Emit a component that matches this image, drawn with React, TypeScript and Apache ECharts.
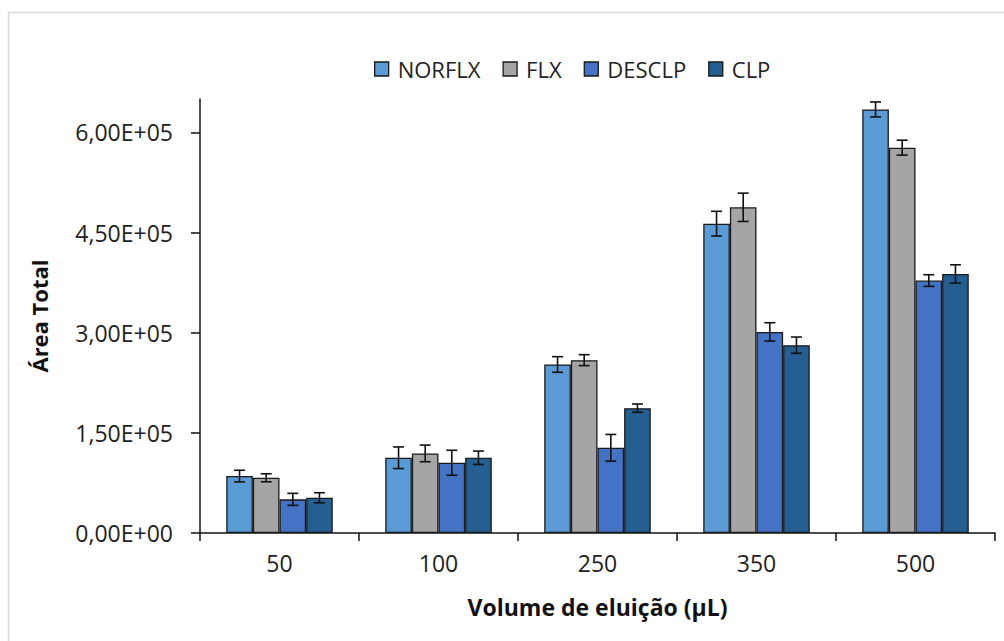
import React, { useEffect, useRef } from "react";
import * as echarts from "echarts";

const categories = ["50", "100", "250", "350", "500"];
const seriesNames = ["NORFLX", "FLX", "DESCLP", "CLP"];
const norflx = [85300, 112700, 252400, 463300, 634400];
const flx = [82700, 119200, 258900, 487800, 577100];
const desclp = [50400, 105200, 127600, 301200, 378100];
const clp = [52800, 112700, 187000, 281300, 388000];
const norflxErr = [8700, 16200, 11700, 18500, 11200];
const flxErr = [6000, 12500, 8200, 21200, 11200];
const desclpErr = [9000, 18700, 20000, 13700, 8700];
const clpErr = [7500, 10000, 6200, 12200, 13700];
const yTicks = [0, 150000, 300000, 450000, 600000];
const colors = ["#5B9BD5", "#A5A5A5", "#4472C4", "#255E91"];

const values = [norflx, flx, desclp, clp];
const errors = [norflxErr, flxErr, desclpErr, clpErr];

const CAT_GAP = 0.33;

function fmt(v: number): string {
  if (v === 0) return "0,00E+00";
  const exp = Math.floor(Math.log10(v));
  const mant = v / Math.pow(10, exp);
  return `${mant.toFixed(2).replace(".", ",")}E+${String(exp).padStart(2, "0")}`;
}

export default function App() {
  const ref = useRef<HTMLDivElement>(null);
  useEffect(() => {
    if (!ref.current) return;
    const chart = echarts.init(ref.current, undefined, { renderer: "svg" });
    const font = "'Open Sans', sans-serif";
    const barSeries = seriesNames.map((name, i) => ({
      name,
      type: "bar",
      data: values[i],
      barGap: "0%",
      barCategoryGap: `${CAT_GAP * 100}%`,
      itemStyle: { color: colors[i], borderColor: "#1a1a1a", borderWidth: 1.3 },
    }));
    const errSeries = seriesNames.map((name, i) => ({
      name: name + " err",
      type: "custom",
      z: 5,
      data: values[i].map((v, j) => [j, v, errors[i][j]]),
      encode: { x: 0, y: 1 },
      renderItem: (params: any, api: any) => {
        const c = api.value(0);
        const v = api.value(1);
        const e = api.value(2);
        const catW = api.size([1, 0])[0];
        const bw = (catW * (1 - CAT_GAP)) / 4;
        const center = api.coord([c, v]);
        const x = center[0] + (i - 1.5) * bw;
        const top = api.coord([c, v + e])[1];
        const bot = api.coord([c, v - e])[1];
        const cap = 5.5;
        const style = { stroke: "#111", lineWidth: 1.6 };
        return {
          type: "group",
          children: [
            { type: "line", shape: { x1: x, y1: top, x2: x, y2: bot }, style },
            { type: "line", shape: { x1: x - cap, y1: top, x2: x + cap, y2: top }, style },
            { type: "line", shape: { x1: x - cap, y1: bot, x2: x + cap, y2: bot }, style },
          ],
        };
      },
    }));
    chart.setOption({
      animation: false,
      textStyle: { fontFamily: font },
      graphic: [
        {
          type: "rect",
          shape: { x: 8.5, y: 12.5, width: 1100, height: 800 },
          style: { fill: "none", stroke: "#d9d9d9", lineWidth: 1.5 },
          silent: true,
          z: -10,
        },
      ],
      legend: {
        data: seriesNames,
        top: 53,
        left: 369,
        itemWidth: 14,
        itemHeight: 14,
        itemGap: 22,
        icon: "rect",
        itemStyle: { borderColor: "#1a1a1a", borderWidth: 1.3 },
        textStyle: { fontFamily: font, fontSize: 22, color: "#222", padding: [0, 0, 0, 4] },
      },
      grid: { left: 200, right: 9, top: 99, bottom: 108, containLabel: false },
      xAxis: {
        type: "category",
        data: categories,
        name: "Volume de eluição (µL)",
        nameLocation: "middle",
        nameGap: 62,
        nameTextStyle: { fontFamily: font, fontSize: 23, fontWeight: "bold", color: "#111" },
        axisLine: { lineStyle: { color: "#111", width: 1.5 } },
        axisTick: { show: true, length: 8, lineStyle: { color: "#111", width: 1.5 } },
        axisLabel: { fontFamily: font, fontSize: 23, color: "#222", margin: 18 },
      },
      yAxis: {
        type: "value",
        min: 0,
        max: 650000,
        interval: 150000,
        name: "Área Total",
        nameLocation: "middle",
        nameRotate: 90,
        nameGap: 150,
        nameTextStyle: { fontFamily: font, fontSize: 22, fontWeight: "bold", color: "#111" },
        splitLine: { show: false },
        axisLine: { show: true, lineStyle: { color: "#111", width: 1.5 } },
        axisTick: {
          show: true,
          length: 9,
          customValues: yTicks,
          lineStyle: { color: "#111", width: 1.5 },
        },
        axisLabel: {
          fontFamily: font,
          fontSize: 23,
          color: "#222",
          margin: 27,
          customValues: yTicks,
          formatter: (v: number) => fmt(v),
        },
      },
      series: [...barSeries, ...errSeries],
    });
    return () => chart.dispose();
  }, []);
  return (
    <div
      ref={ref}
      style={{ position: "fixed", left: 0, top: 0, width: 1004, height: 641, background: "#fff" }}
    />
  );
}
